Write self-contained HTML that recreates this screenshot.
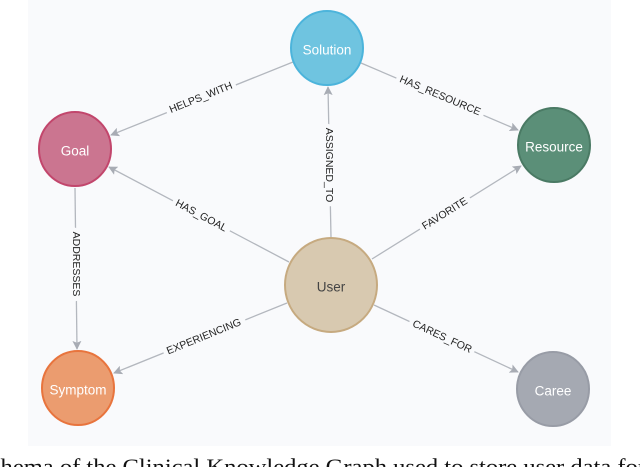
<!DOCTYPE html>
<html><head><style>
html,body{margin:0;padding:0;background:#fff;width:640px;height:467px;overflow:hidden;}
</style></head><body>
<svg width="640" height="467" viewBox="0 0 640 467" xmlns="http://www.w3.org/2000/svg" style="position:absolute;left:0;top:0">
<defs>
<marker id="a" viewBox="0 0 10 10" refX="9" refY="5" markerWidth="9" markerHeight="9" orient="auto" markerUnits="userSpaceOnUse">
<path d="M0,0 L10,5 L0,10 L2,5 z" fill="#a8acb4"/></marker>
</defs>
<rect x="28" y="0" width="583" height="446" fill="#f9fafc"/>
<g stroke="#b3b7be" stroke-width="1.3" fill="none" marker-end="url(#a)">
<line x1="293" y1="62" x2="111" y2="135"/>
<line x1="361" y1="63" x2="518" y2="130"/>
<line x1="331" y1="237" x2="328" y2="87"/>
<line x1="289" y1="262" x2="109" y2="167"/>
<line x1="372" y1="259" x2="521" y2="166"/>
<line x1="75" y1="188" x2="77" y2="349"/>
<line x1="287" y1="303" x2="114" y2="373"/>
<line x1="374" y1="305" x2="518" y2="372"/>
</g>
<g font-family="Liberation Sans, sans-serif" font-size="10.5" fill="#222" text-anchor="middle" stroke="#f9fafc" stroke-width="9" paint-order="stroke" dominant-baseline="middle">
<text transform="translate(201,98) rotate(-22)">HELPS_WITH</text>
<text transform="translate(440,96) rotate(23)">HAS_RESOURCE</text>
<text transform="translate(329,165) rotate(90)">ASSIGNED_TO</text>
<text transform="translate(201,216) rotate(28)">HAS_GOAL</text>
<text transform="translate(445,214) rotate(-32)">FAVORITE</text>
<text transform="translate(76,264) rotate(90)">ADDRESSES</text>
<text transform="translate(204,337) rotate(-22)">EXPERIENCING</text>
<text transform="translate(442,337) rotate(25)">CARES_FOR</text>
</g>
<g stroke-width="2">
<ellipse cx="327" cy="48" rx="36" ry="37" fill="#6fc4e0" stroke="#4cb4db"/>
<ellipse cx="75" cy="149" rx="36" ry="37" fill="#cb7590" stroke="#c2466c"/>
<ellipse cx="554" cy="145" rx="36" ry="37" fill="#5b8f78" stroke="#4a7a64"/>
<ellipse cx="331" cy="285" rx="46" ry="47" fill="#d8c9b0" stroke="#c6aa80"/>
<ellipse cx="78" cy="388" rx="36" ry="37" fill="#eb9c6f" stroke="#e8743d"/>
<ellipse cx="553" cy="389" rx="36" ry="37" fill="#a5a9b2" stroke="#989ca6"/>
</g>
<g font-family="Liberation Sans, sans-serif" font-size="13.5" fill="#fff" text-anchor="middle" dominant-baseline="middle">
<text x="327" y="51">Solution</text>
<text x="75" y="152">Goal</text>
<text x="554" y="148">Resource</text>
<text x="331" y="288" fill="#444">User</text>
<text x="78" y="391">Symptom</text>
<text x="553" y="392">Caree</text>
</g>
<text x="-24" y="474" font-family="Liberation Serif, serif" font-size="22" fill="#111" textLength="670" lengthAdjust="spacingAndGlyphs">Schema of the Clinical Knowledge Graph used to store user data for</text>
</svg>
</body></html>
